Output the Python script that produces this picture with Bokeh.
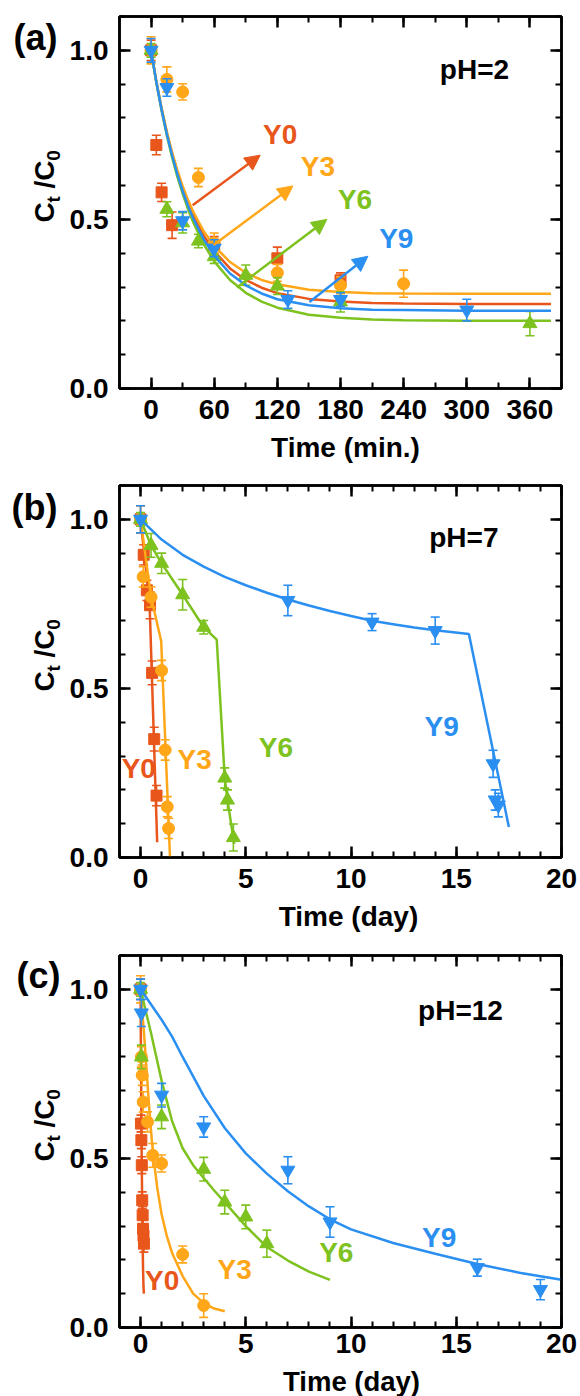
from math import pi
from bokeh.plotting import figure
from bokeh.layouts import column, row
from bokeh.models import (Range1d, LinearAxis, SingleIntervalTicker, Label, Arrow,
                          NormalHead, PrintfTickFormatter, CustomJSTickFormatter)
from bokeh.core.properties import value
from bokeh.embed import file_html
from bokeh.resources import INLINE

FONT = "Liberation Sans"
COLORS = {"Y0": "#E8561C", "Y3": "#FFA619", "Y6": "#7DC21E", "Y9": "#2A8FF0"}
MARKERS = {"Y0": "square", "Y3": "circle", "Y6": "triangle", "Y9": "inverted_triangle"}
MSIZE = {"Y0": 11, "Y3": 12, "Y6": 14, "Y9": 14}
SERIES = ["Y0", "Y3", "Y6", "Y9"]

# ---------------- panel (a): pH = 2, time in minutes ----------------
a_Y0_t = [0, 5, 10, 20, 60, 120, 180]
a_Y0_v = [1.0, 0.72, 0.58, 0.483, 0.424, 0.385, 0.32]
a_Y0_e = [0.03, 0.029, 0.027, 0.039, 0.025, 0.033, 0.022]
a_Y3_t = [0, 15, 30, 45, 60, 120, 180, 240]
a_Y3_v = [1.0, 0.914, 0.877, 0.624, 0.43, 0.342, 0.305, 0.31]
a_Y3_e = [0.04, 0.037, 0.024, 0.027, 0.03, 0.025, 0.025, 0.04]
a_Y6_t = [0, 15, 30, 45, 60, 90, 120, 180, 360]
a_Y6_v = [1.0, 0.53, 0.49, 0.436, 0.39, 0.335, 0.303, 0.256, 0.192]
a_Y6_e = [0.02, 0.022, 0.03, 0.02, 0.02, 0.03, 0.025, 0.03, 0.036]
a_Y9_t = [0, 15, 30, 60, 130, 180, 300]
a_Y9_v = [1.0, 0.89, 0.496, 0.415, 0.263, 0.263, 0.232]
a_Y9_e = [0.035, 0.026, 0.027, 0.025, 0.026, 0.02, 0.032]

a_fit_t = [0, 5, 10, 15, 20, 25, 30, 35, 40, 50, 60, 75, 90, 105, 120, 150, 180, 210, 240, 300, 380]
a_fit_Y0 = [1.0, 0.907, 0.827, 0.756, 0.694, 0.640, 0.592, 0.550, 0.513, 0.452, 0.406, 0.355, 0.321, 0.298, 0.282, 0.265, 0.257, 0.253, 0.251, 0.25, 0.25]
a_fit_Y3 = [1.0, 0.908, 0.829, 0.759, 0.698, 0.645, 0.598, 0.558, 0.523, 0.465, 0.421, 0.374, 0.342, 0.321, 0.308, 0.292, 0.285, 0.282, 0.281, 0.28, 0.28]
a_fit_Y6 = [1.0, 0.905, 0.822, 0.748, 0.683, 0.626, 0.576, 0.531, 0.492, 0.427, 0.376, 0.321, 0.283, 0.257, 0.239, 0.218, 0.209, 0.204, 0.202, 0.2, 0.2]
a_fit_Y9 = [1.0, 0.906, 0.824, 0.752, 0.689, 0.633, 0.584, 0.541, 0.503, 0.441, 0.393, 0.340, 0.305, 0.281, 0.264, 0.246, 0.237, 0.233, 0.232, 0.23, 0.23]

# ---------------- panel (b): pH = 7, time in days ----------------
b_Y0_t = [0, 0.15, 0.3, 0.45, 0.55, 0.65, 0.76]
b_Y0_v = [1.0, 0.895, 0.79, 0.746, 0.546, 0.35, 0.183]
b_Y0_e = [0.04, 0.03, 0.03, 0.04, 0.035, 0.035, 0.03]
b_Y3_t = [0, 0.125, 0.5, 1.0, 1.17, 1.27, 1.33]
b_Y3_v = [1.0, 0.83, 0.77, 0.553, 0.318, 0.15, 0.086]
b_Y3_e = [0.04, 0.03, 0.03, 0.03, 0.03, 0.03, 0.03]
b_Y6_t = [0, 0.5, 1, 2, 3, 4.0, 4.13, 4.41]
b_Y6_v = [1.0, 0.923, 0.87, 0.777, 0.681, 0.235, 0.17, 0.059]
b_Y6_e = [0.02, 0.035, 0.03, 0.045, 0.02, 0.03, 0.03, 0.04]
b_Y9_t = [0, 7, 11, 14, 16.75, 16.85, 17.0]
b_Y9_v = [1.0, 0.76, 0.696, 0.671, 0.277, 0.17, 0.155]
b_Y9_e = [0.04, 0.045, 0.025, 0.04, 0.04, 0.03, 0.035]

b_fit_Y0_t = [0, 0.43, 0.79]
b_fit_Y0_v = [1.0, 0.75, 0.045]
b_fit_Y3_t = [0, 0.5, 0.98, 1.4]
b_fit_Y3_v = [1.0, 0.77, 0.64, 0.0]
b_fit_Y6_t = [0, 0.5, 1, 2, 3, 3.62, 4.0, 4.13, 4.45]
b_fit_Y6_v = [1.0, 0.923, 0.87, 0.777, 0.681, 0.644, 0.235, 0.17, 0.04]
b_fit_Y9_t = [0, 1, 2, 3, 4, 5, 6, 7, 8, 9, 10, 11, 12, 13, 14, 15.6, 17.5]
b_fit_Y9_v = [1.0, 0.94, 0.895, 0.86, 0.83, 0.805, 0.783, 0.763, 0.745, 0.729, 0.714, 0.70, 0.69, 0.68, 0.672, 0.661, 0.09]

# ---------------- panel (c): pH = 12, time in days ----------------
c_Y0_t = [0, 0.02, 0.04, 0.06, 0.08, 0.1, 0.12, 0.14, 0.16]
c_Y0_v = [1.0, 0.603, 0.554, 0.48, 0.376, 0.332, 0.292, 0.272, 0.248]
c_Y0_e = [0.03, 0.025, 0.025, 0.025, 0.025, 0.025, 0.025, 0.025, 0.025]
c_Y3_t = [0, 0.04, 0.08, 0.125, 0.33, 0.58, 1, 2, 3]
c_Y3_v = [1.0, 0.80, 0.746, 0.667, 0.608, 0.509, 0.485, 0.216, 0.065]
c_Y3_e = [0.04, 0.03, 0.03, 0.03, 0.03, 0.035, 0.025, 0.025, 0.035]
c_Y6_t = [0, 0.04, 1, 3, 4, 5, 6]
c_Y6_v = [1.0, 0.80, 0.623, 0.468, 0.371, 0.327, 0.248]
c_Y6_e = [0.02, 0.035, 0.035, 0.035, 0.035, 0.035, 0.04]
c_Y9_t = [0, 0.04, 1, 3, 7, 9, 16, 19]
c_Y9_v = [1.0, 0.93, 0.687, 0.593, 0.465, 0.312, 0.177, 0.112]
c_Y9_e = [0.03, 0.04, 0.035, 0.03, 0.04, 0.045, 0.025, 0.03]

c_fit_Y0_t = [0, 0.02, 0.04, 0.06, 0.08, 0.1, 0.12, 0.14, 0.16]
c_fit_Y0_v = [1.0, 0.80, 0.62, 0.47, 0.35, 0.25, 0.17, 0.12, 0.10]
c_fit_Y3_t = [0, 0.1, 0.2, 0.3, 0.4, 0.5, 0.6, 0.8, 1.0, 1.25, 1.5, 2, 2.5, 3, 3.5, 4]
c_fit_Y3_v = [1.0, 0.92, 0.84, 0.75, 0.66, 0.58, 0.51, 0.41, 0.335, 0.27, 0.22, 0.152, 0.10, 0.072, 0.056, 0.048]
c_fit_Y6_t = [0, 0.25, 0.5, 0.75, 1, 1.5, 2, 2.5, 3, 3.5, 4, 5, 6, 7, 8, 9]
c_fit_Y6_v = [1.0, 0.935, 0.87, 0.80, 0.73, 0.61, 0.53, 0.48, 0.442, 0.405, 0.37, 0.30, 0.238, 0.198, 0.165, 0.141]
c_fit_Y9_t = [0, 0.5, 1, 1.5, 2, 3, 4, 5, 6, 7, 8, 9, 10, 12, 14, 16, 18, 20]
c_fit_Y9_v = [1.0, 0.955, 0.91, 0.86, 0.80, 0.685, 0.59, 0.515, 0.455, 0.403, 0.358, 0.32, 0.29, 0.25, 0.218, 0.188, 0.162, 0.141]

Y_FMT = "%.1f"
W = 580
LEFT_W = 64


def style_axis(ax, show):
    ax.axis_line_width = 2.5
    ax.axis_line_color = "black"
    ax.major_tick_line_width = 2.5
    ax.major_tick_line_color = "black"
    ax.minor_tick_line_width = 2
    ax.minor_tick_line_color = "black"
    ax.major_tick_in = 11
    ax.major_tick_out = 0
    ax.minor_tick_in = 6
    ax.minor_tick_out = 0
    ax.major_label_text_font = FONT
    ax.major_label_text_font_style = "bold"
    ax.major_label_text_color = "black"
    ax.major_label_text_font_size = "28px"
    if not show:
        ax.formatter = CustomJSTickFormatter(code="return ''")
        ax.major_label_standoff = 0


def make_fig(x0, x1, h, top, bottom, xint, nminor, xstandoff):
    p = figure(width=W - LEFT_W, height=h, x_range=Range1d(x0, x1), y_range=Range1d(0, 1.1),
               output_backend="svg", toolbar_location=None,
               x_axis_type=None, y_axis_type=None,
               min_border_left=119 - LEFT_W, min_border_right=19,
               min_border_top=top, min_border_bottom=bottom)
    p.background_fill_color = "white"
    p.border_fill_color = "white"
    p.outline_line_color = "black"
    p.outline_line_width = 2.5
    for loc in ["below", "above"]:
        ax = LinearAxis(ticker=SingleIntervalTicker(interval=xint, num_minor_ticks=nminor))
        style_axis(ax, loc == "below")
        if loc == "below":
            ax.major_label_standoff = xstandoff
        p.add_layout(ax, loc)
    for loc in ["left", "right"]:
        ax = LinearAxis(ticker=SingleIntervalTicker(interval=0.5, num_minor_ticks=5))
        style_axis(ax, loc == "left")
        if loc == "left":
            ax.formatter = PrintfTickFormatter(format=Y_FMT)
            ax.major_label_standoff = 11
        p.add_layout(ax, loc)
    return p


def aux_fig(w, h, y0, y1, top=0, bottom=0):
    p = figure(width=w, height=h, x_range=Range1d(0, w), y_range=Range1d(y0, y1),
               output_backend="svg", toolbar_location=None,
               x_axis_type=None, y_axis_type=None,
               min_border_left=0, min_border_right=0,
               min_border_top=top, min_border_bottom=bottom)
    p.outline_line_color = None
    p.background_fill_color = "white"
    p.border_fill_color = "white"
    return p


def add_series(p, name, t, v, e, ft, fv):
    c = COLORS[name]
    p.line(ft, fv, line_color=c, line_width=2.5)
    lo = [vi - ei for vi, ei in zip(v, e)]
    hi = [vi + ei for vi, ei in zip(v, e)]
    p.segment(x0=t, y0=lo, x1=t, y1=hi, line_color=c, line_width=1.6)
    p.scatter(t, lo, marker="dash", size=9, line_color=c, line_width=1.6)
    p.scatter(t, hi, marker="dash", size=9, line_color=c, line_width=1.6)
    p.scatter(t, v, marker=MARKERS[name], size=MSIZE[name], fill_color=c, line_color=c)


def lbl(p, x, y, text, color="black", size="28px"):
    # (x, y) is the visual centre of the text
    p.add_layout(Label(x=x, y=y, text=text, text_font=FONT, text_font_style="bold",
                       text_font_size=size, text_color=color, text_align="center",
                       text_baseline="middle"))


def gtext(p, x, y, text, size="28px", angle=0.0):
    p.text(x=[x], y=[y], text=[text], angle=angle, text_font=value(FONT),
           text_font_style="bold", text_font_size=size, text_color="black",
           text_align="center", text_baseline="middle")


def left_panel(h, top, bottom, letter, lx, ly):
    # shares the main panel's vertical scale (0 .. 1.1 over the same frame)
    p = aux_fig(LEFT_W, h, 0, 1.1, top, bottom)
    for txt, xc, yc, size in [("C", 44, 0.5207, "28px"), ("t", 53.2, 0.5595, "19px"),
                              ("/", 44, 0.6029, "28px"), ("C", 44, 0.6443, "28px"),
                              ("0", 53.2, 0.689, "19px")]:
        gtext(p, xc, yc, txt, size=size, angle=pi / 2)
    gtext(p, lx, ly, letter, size="36px")
    return p


def strip(h, xc, yc, text, size="28px"):
    p = aux_fig(W, h, 0, h)
    gtext(p, xc, yc, text, size=size)
    return p


# ---------------- panel (a) ----------------
HA = 431
fa = make_fig(-30, 390, HA, 16, 43, 60, 2, 11)
add_series(fa, "Y0", a_Y0_t, a_Y0_v, a_Y0_e, a_fit_t, a_fit_Y0)
add_series(fa, "Y3", a_Y3_t, a_Y3_v, a_Y3_e, a_fit_t, a_fit_Y3)
add_series(fa, "Y6", a_Y6_t, a_Y6_v, a_Y6_e, a_fit_t, a_fit_Y6)
add_series(fa, "Y9", a_Y9_t, a_Y9_v, a_Y9_e, a_fit_t, a_fit_Y9)
for name, (xs, ys, xe, ye) in zip(SERIES, [(39.5, 0.542, 103.7, 0.69), (59.4, 0.424, 134.8, 0.599),
                                           (81.6, 0.299, 167.0, 0.5), (150.5, 0.256, 206.0, 0.391)]):
    c = COLORS[name]
    fa.add_layout(Arrow(end=NormalHead(size=15, fill_color=c, line_color=c, line_width=1),
                        x_start=xs, y_start=ys, x_end=xe, y_end=ye, line_color=c, line_width=2.5))
for name, (x, y) in zip(SERIES, [(122.7, 0.752), (158.6, 0.656), (193.8, 0.5595), (233.0, 0.445)]):
    lbl(fa, x, y, name, color=COLORS[name])
lbl(fa, 307.3, 0.9445, "pH=2")
la = left_panel(HA, 16, 43, "(a)", 35, 1.038)
sa = strip(44, 345, 28, "Time (min.)")

# ---------------- panel (b) ----------------
HB = 425
fb = make_fig(-1, 20, HB, 10, 43, 5, 5, 11)
add_series(fb, "Y0", b_Y0_t, b_Y0_v, b_Y0_e, b_fit_Y0_t, b_fit_Y0_v)
add_series(fb, "Y3", b_Y3_t, b_Y3_v, b_Y3_e, b_fit_Y3_t, b_fit_Y3_v)
add_series(fb, "Y6", b_Y6_t, b_Y6_v, b_Y6_e, b_fit_Y6_t, b_fit_Y6_v)
add_series(fb, "Y9", b_Y9_t, b_Y9_v, b_Y9_e, b_fit_Y9_t, b_fit_Y9_v)
for name, (x, y) in zip(SERIES, [(-0.083, 0.262), (2.573, 0.289), (6.431, 0.324), (14.31, 0.387)]):
    lbl(fb, x, y, name, color=COLORS[name])
lbl(fb, 15.36, 0.9457, "pH=7")
lb = left_panel(HB, 10, 43, "(b)", 34, 1.0364)
sb = strip(45, 348, 29, "Time (day)")

# ---------------- panel (c) ----------------
HC = 420
fc = make_fig(-1, 20, HC, 10, 38, 5, 5, 6)
add_series(fc, "Y0", c_Y0_t, c_Y0_v, c_Y0_e, c_fit_Y0_t, c_fit_Y0_v)
add_series(fc, "Y3", c_Y3_t, c_Y3_v, c_Y3_e, c_fit_Y3_t, c_fit_Y3_v)
add_series(fc, "Y6", c_Y6_t, c_Y6_v, c_Y6_e, c_fit_Y6_t, c_fit_Y6_v)
add_series(fc, "Y9", c_Y9_t, c_Y9_v, c_Y9_e, c_fit_Y9_t, c_fit_Y9_v)
for name, (x, y) in zip(SERIES, [(1.029, 0.139), (4.473, 0.1715), (9.30, 0.2203), (14.19, 0.2647)]):
    lbl(fc, x, y, name, color=COLORS[name])
lbl(fc, 15.2, 0.9373, "pH=12")
lc = left_panel(HC, 10, 38, "(c)", 38, 1.0395)
SC = 1396 - 945 - HC
sc = strip(SC, 351, SC - 15.5, "Time (day)", size="27.5px")

layout = column(row(la, fa, spacing=0), sa,
                row(lb, fb, spacing=0), sb,
                row(lc, fc, spacing=0), sc, spacing=0)
open("out.html", "w").write(file_html(layout, INLINE))
